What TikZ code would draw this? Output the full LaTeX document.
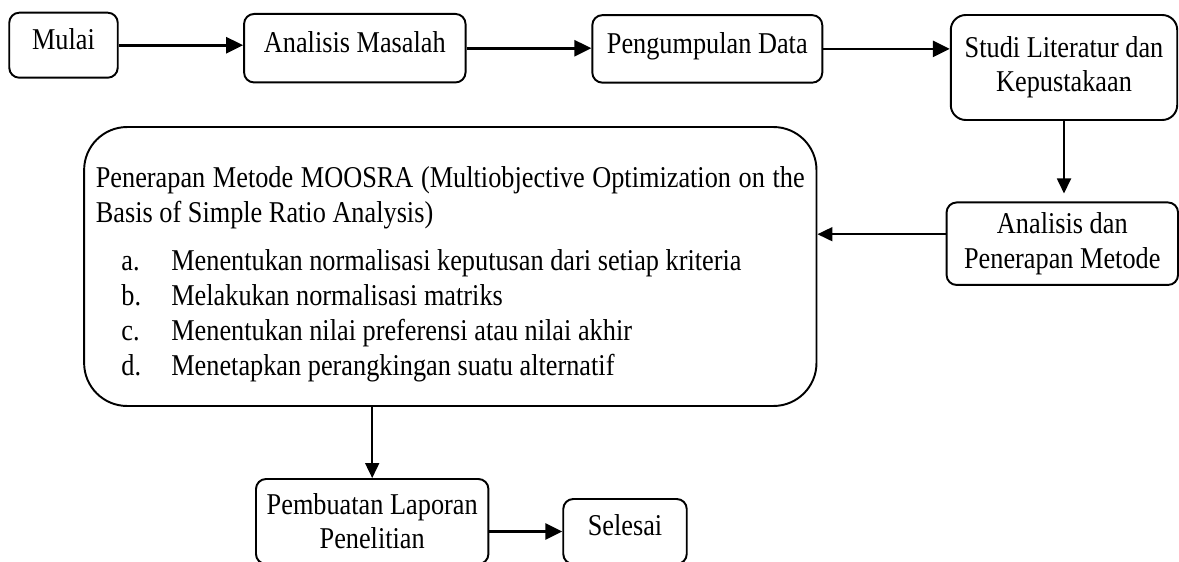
\documentclass[tikz,border=0pt]{standalone}
\usepackage{fontspec}
\setmainfont{Liberation Serif}[FakeStretch=0.87]
\usepackage{tikz}
\usetikzlibrary{arrows.meta}

\newcommand{\stageitem}[2]{\par\noindent\hspace*{0.51cm}\makebox[1cm][l]{#1}#2}

\begin{document}
\begin{tikzpicture}[x=0.02cm, y=-0.02cm, font=\fontsize{17.2pt}{19.5pt}\selectfont,
	stagebox/.style={draw, rounded corners=0.2cm, line width=1.1pt, align=center, inner sep=0pt},
	oneline/.style={text depth=0.25cm},
	methodbox/.style={draw, rounded corners=0.86cm, line width=1.1pt, text width=14.18cm, align=justify, inner sep=0pt, font=\fontsize{17.2pt}{19.9pt}\selectfont},
	arr/.style={-{Triangle[length=0.34cm, width=0.32cm]}, line width=1.5pt},
	thinarr/.style={-{Triangle[length=0.3cm, width=0.28cm]}, line width=1pt}]
	\useasboundingbox (0,0) rectangle (1179,561);
	
	\node[stagebox, oneline, minimum width=2.17cm, minimum height=1.30cm] (mulai) at (63.5,45.2) {Mulai};
	\node[stagebox, oneline, minimum width=4.43cm, minimum height=1.37cm] (masalah) at (354.8,48.2) {Analisis Masalah};
	\node[stagebox, oneline, minimum width=4.60cm, minimum height=1.35cm] (data) at (707.3,48.9) {Pengumpulan Data};
	\node[stagebox, rounded corners=0.3cm, minimum width=4.53cm, minimum height=2.10cm] (studi) at (1064,67.5) {Studi Literatur dan\\Kepustakaan};
	\node[stagebox, minimum width=4.63cm, minimum height=1.65cm] (analisis) at (1062.3,243.7) {Analisis dan\\Penerapan Metode};
	\node[methodbox, minimum width=14.65cm, minimum height=5.58cm] (moosra) at (450.3,266.5) {\rule{0pt}{21pt}Penerapan Metode MOOSRA (Multiobjective Optimization on the Basis of Simple Ratio Analysis)\par\vspace{0.26cm}
		\stageitem{a.}{Menentukan normalisasi keputusan dari setiap kriteria}
		\stageitem{b.}{Melakukan normalisasi matriks}
		\stageitem{c.}{Menentukan nilai preferensi atau nilai akhir}
		\stageitem{d.}{Menetapkan perangkingan suatu alternatif}};
	\node[stagebox, minimum width=4.65cm, minimum height=1.70cm] (laporan) at (372.2,521.5) {Pembuatan Laporan\\Penelitian};
	\node[stagebox, oneline, minimum width=2.47cm, minimum height=1.30cm] (selesai) at (625,531.5) {Selesai};
	
	\draw[arr] (mulai.east) -- (mulai.east -| masalah.west);
	\draw[arr] (masalah.east) -- (masalah.east -| data.west);
	\draw[arr] (data.east) -- (data.east -| studi.west);
	\draw[thinarr, shorten >=0.16cm] (studi.south) -- (studi.south |- analisis.north);
	\draw[thinarr] ([yshift=0.19cm]analisis.west) -- ([yshift=0.19cm]analisis.west -| moosra.east);
	\draw[thinarr] (laporan.north |- moosra.south) -- (laporan.north);
	\draw[arr] (selesai.west -| laporan.east) -- (selesai.west);
\end{tikzpicture}
\end{document}
